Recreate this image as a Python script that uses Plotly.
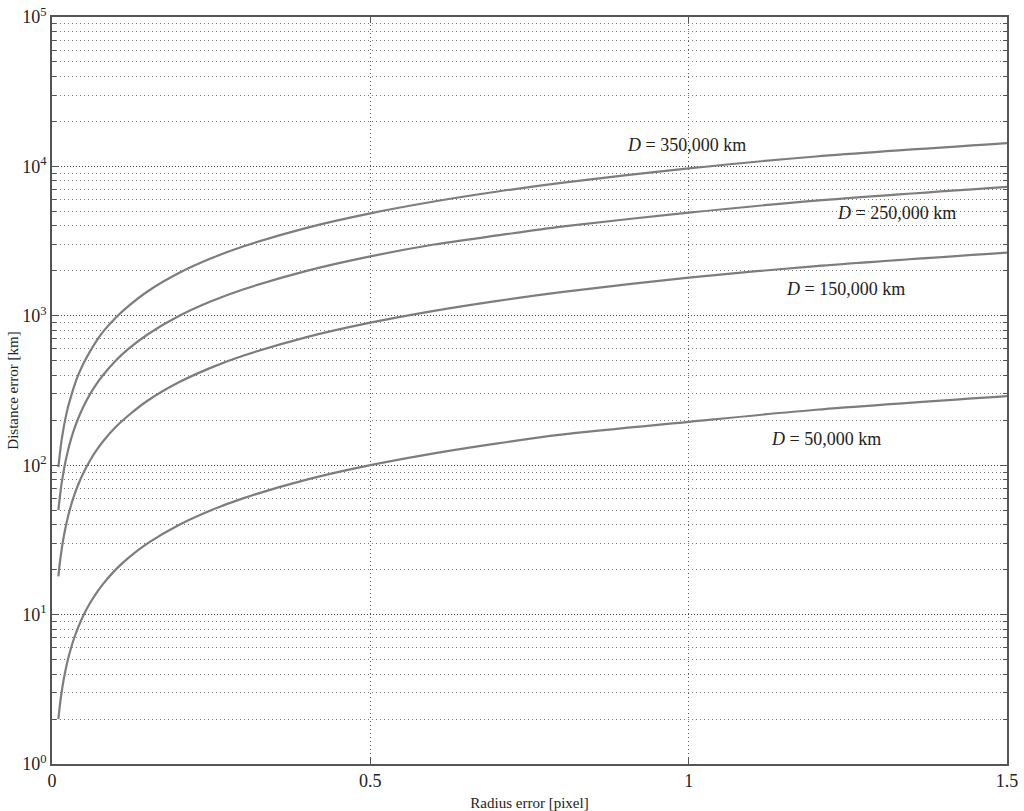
"""Distance error vs radius error for several target distances"""

import math
import plotly.graph_objects as go

# radius error [pixel]
radius_err = [0.01, 0.0125, 0.015, 0.0175, 0.02, 0.025, 0.03, 0.035, 0.04,
              0.05, 0.06, 0.07, 0.08, 0.1, 0.12, 0.15, 0.2, 0.25, 0.3,
              0.4, 0.5, 0.6, 0.7, 0.8, 1.0, 1.2, 1.5]

# distance error [km]
err_50k = [2, 2.5, 3, 3.5, 4, 5, 6, 7, 8,
           10, 12, 14, 16, 20, 24, 30, 40, 50, 60,
           80, 100, 120, 140, 160, 195, 235, 290]
err_150k = [18, 22.5, 27, 31.5, 36, 45, 54, 63, 72,
            90, 108, 126, 144, 180, 215, 270, 360, 450, 540,
            720, 900, 1080, 1260, 1440, 1800, 2150, 2650]
err_250k = [50, 62, 75, 87, 100, 125, 150, 175, 200,
            250, 300, 350, 400, 500, 600, 750, 1000, 1250, 1500,
            2000, 2500, 3000, 3450, 3950, 4900, 5900, 7300]
err_350k = [97, 121, 146, 170, 195, 243, 290, 340, 390,
            485, 580, 680, 780, 970, 1160, 1455, 1940, 2425, 2910,
            3880, 4850, 5820, 6790, 7760, 9700, 11650, 14300]

series = [err_50k, err_150k, err_250k, err_350k]

labels = ["<i>D</i> = 50,000 km", "<i>D</i> = 150,000 km",
          "<i>D</i> = 250,000 km", "<i>D</i> = 350,000 km"]
label_x = [1.216, 1.247, 1.326, 0.996]
label_y = [150, 1510, 4875, 13900]

y_tickvals = [1, 10, 100, 1000, 10000, 100000]
y_ticktext = ["10<sup>0</sup>", "10<sup>1</sup>", "10<sup>2</sup>",
              "10<sup>3</sup>", "10<sup>4</sup>", "10<sup>5</sup>"]
y_minorvals = [m * 10 ** k for k in range(5) for m in range(2, 10)]
x_tickvals = [0, 0.5, 1, 1.5]
x_ticktext = ["0", "0.5", "1", "1.5"]

line_color = "#7d7d7d"
serif = "Liberation Serif, Times New Roman, serif"

fig = go.Figure()

for ys in series:
    fig.add_trace(
        go.Scatter(
            x=radius_err,
            y=ys,
            mode="lines",
            line=dict(color=line_color, width=2.2, shape="spline", smoothing=0.8),
            showlegend=False,
            hoverinfo="skip",
        )
    )

# annotations on a log axis take log10 positions
for txt, lx, ly in zip(labels, label_x, label_y):
    fig.add_annotation(
        x=lx, y=math.log10(ly), yref="y", xref="x",
        text=txt, showarrow=False,
        font=dict(family=serif, size=18, color="#222"),
    )

fig.update_layout(
    width=1024,
    height=811,
    plot_bgcolor="white",
    paper_bgcolor="white",
    margin=dict(l=52, r=17, t=17, b=47),
    font=dict(family=serif, color="#222"),
)

fig.update_xaxes(
    range=[0, 1.5],
    automargin=False,
    ticklabeloverflow="allow",
    tickmode="array",
    tickvals=x_tickvals,
    ticktext=x_ticktext,
    tickfont=dict(size=18),
    ticks="inside",
    ticklen=6,
    tickcolor="#555",
    showline=True,
    linecolor="#555",
    linewidth=1.5,
    mirror="ticks",
    showgrid=True,
    gridcolor="#555",
    griddash="1px,3px",
    gridwidth=1,
    zeroline=False,
    title=dict(text="Radius error [pixel]", font=dict(size=15), standoff=9),
)

fig.update_yaxes(
    type="log",
    range=[0, 5],
    automargin=False,
    ticklabeloverflow="allow",
    tickmode="array",
    tickvals=y_tickvals,
    ticktext=y_ticktext,
    tickfont=dict(size=18),
    ticks="inside",
    ticklen=7,
    tickcolor="#555",
    showline=True,
    linecolor="#555",
    linewidth=1.5,
    mirror="ticks",
    showgrid=True,
    gridcolor="#444",
    griddash="1px,2px",
    gridwidth=1,
    zeroline=False,
    minor=dict(
        tickmode="array",
        tickvals=y_minorvals,
        ticks="inside",
        ticklen=4,
        tickcolor="#555",
        showgrid=True,
        gridcolor="#777",
        griddash="1px,3px",
        gridwidth=1,
    ),
    title=dict(text="Distance error [km]", font=dict(size=15), standoff=0),
)

# drop the default body margin so the 1024x811 figure fills the window
fig.write_html(
    "out.html",
    config={"displayModeBar": False},
    post_script="document.body.style.margin = '0';",
)
